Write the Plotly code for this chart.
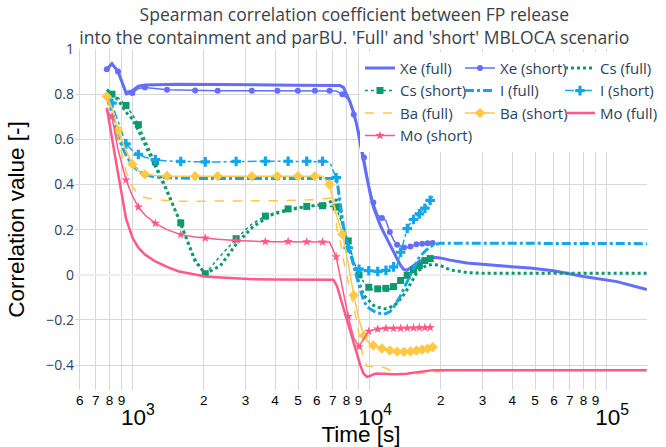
import plotly.graph_objects as go

# ---------------- data ----------------
t_full = [780, 820, 870, 940, 1000, 1060, 1130, 1250, 1400, 1560, 1840, 2030, 2350, 2760,
          3240, 3940, 4940, 5960, 6600, 7050, 7300, 7520, 7770, 8030, 8290, 8570, 8860,
          9150, 9440, 9760, 10070, 10400, 10750, 11100, 11460, 11840, 12220, 12620, 13050,
          13480, 13910, 14390, 14760, 15250, 15750, 16260, 17450, 18620, 19860, 21890,
          25760, 30280, 35580, 47640, 59740, 79960, 110700, 148000]

t_short = [780, 820, 870, 940, 1000, 1060, 1130, 1250, 1400, 1600, 1840, 2030,
           2290, 2740, 3190, 3640, 4090, 4540, 4990, 5440, 5890, 6340, 6790, 7240,
           7690, 8140, 8590, 9040, 9490, 9940, 10390, 10840, 11290, 11740, 12190, 12640,
           13090, 13540, 13990, 14440, 14890, 15340, 15790, 16240, 16690, 17140, 17590,
           18040, 18490]

xe_full = [0.91, 0.935, 0.90, 0.807, 0.815, 0.835, 0.841, 0.843, 0.843, 0.844, 0.844, 0.844,
           0.843, 0.842, 0.842, 0.841, 0.840, 0.840, 0.840, 0.840, 0.840, 0.838, 0.83, 0.80,
           0.765, 0.72, 0.66, 0.58, 0.50, 0.43, 0.36, 0.30, 0.26, 0.22, 0.19, 0.16, 0.13,
           0.10, 0.07, 0.045, 0.025, 0.02, 0.028, 0.04, 0.052, 0.06, 0.07, 0.078, 0.075,
           0.065, 0.052, 0.045, 0.04, 0.03, 0.018, -0.007, -0.03, -0.065]

cs_full = [0.82, 0.80, 0.775, 0.72, 0.69, 0.64, 0.58, 0.48, 0.37, 0.255, 0.06, 0.005,
           0.04, 0.14, 0.215, 0.27, 0.295, 0.308, 0.315, 0.33, 0.33, 0.28, 0.21, 0.16,
           0.11, 0.05, -0.01, -0.05, -0.09, -0.105, -0.12, -0.135, -0.142, -0.147, -0.15,
           -0.15, -0.145, -0.138, -0.126, -0.11, -0.09, -0.067, -0.045, -0.02, 0.005, 0.022,
           0.042, 0.046, 0.042, 0.022, 0.01, 0.007, 0.007, 0.007, 0.007, 0.007, 0.007, 0.007]

i_full = [0.79, 0.72, 0.61, 0.53, 0.485, 0.46, 0.444, 0.433, 0.43, 0.428, 0.427, 0.427,
          0.427, 0.427, 0.427, 0.427, 0.427, 0.427, 0.427, 0.427, 0.42, 0.32, 0.215, 0.15,
          0.10, 0.05, -0.01, -0.067, -0.11, -0.141, -0.152, -0.16, -0.167, -0.172, -0.175,
          -0.17, -0.163, -0.145, -0.12, -0.096, -0.065, -0.03, -0.005, 0.022, 0.05, 0.08,
          0.111, 0.133, 0.14, 0.141, 0.14, 0.14, 0.14, 0.139, 0.139, 0.138, 0.138, 0.138]

ba_full = [0.785, 0.71, 0.61, 0.46, 0.39, 0.356, 0.342, 0.333, 0.328, 0.326, 0.326, 0.326,
           0.326, 0.327, 0.327, 0.328, 0.33, 0.333, 0.338, 0.341, 0.20, 0.155, 0.067, 0.0,
           -0.06, -0.14, -0.21, -0.30, -0.37, -0.405, -0.407, -0.407, -0.407, -0.408, -0.41,
           -0.415, -0.425, -0.432, -0.437, -0.44, -0.44, -0.44, -0.44, -0.439, -0.438, -0.437,
           -0.433, -0.43, -0.427, -0.424, -0.423, -0.423, -0.423, -0.423, -0.423, -0.423,
           -0.423, -0.423]

mo_full = [0.74, 0.60, 0.45, 0.25, 0.165, 0.12, 0.09, 0.059, 0.035, 0.016, 0.0, -0.007,
           -0.012, -0.017, -0.02, -0.021, -0.022, -0.022, -0.022, -0.022, -0.05, -0.096,
           -0.15, -0.20, -0.25, -0.304, -0.36, -0.40, -0.437, -0.452, -0.448, -0.44, -0.437,
           -0.438, -0.44, -0.44, -0.44, -0.44, -0.44, -0.44, -0.44, -0.438, -0.436, -0.434,
           -0.432, -0.43, -0.425, -0.422, -0.422, -0.422, -0.423, -0.423, -0.423, -0.423,
           -0.423, -0.423, -0.423, -0.423]

xe_short = [0.91, 0.93, 0.90, 0.797, 0.805, 0.825, 0.83, 0.825, 0.82, 0.818, 0.816, 0.815,
            0.815, 0.815, 0.815, 0.815, 0.815, 0.815, 0.815, 0.815, 0.815, 0.815, 0.815, 0.814,
            0.80, 0.778, 0.71, 0.635, 0.52, 0.40, 0.32, 0.265, 0.252, 0.24, 0.19, 0.155,
            0.133, 0.128, 0.121, 0.12, 0.125, 0.13, 0.135, 0.137, 0.138, 0.139, 0.14, 0.14, 0.141]

cs_short = [0.81, 0.80, 0.785, 0.75, 0.71, 0.665, 0.60, 0.50, 0.38, 0.23, 0.07, 0.005,
            0.07, 0.16, 0.225, 0.26, 0.28, 0.292, 0.30, 0.303, 0.306, 0.306, 0.304, 0.30,
            0.22, 0.15, 0.06, 0.0, -0.035, -0.055, -0.067, -0.062, -0.058, -0.06, -0.064,
            -0.052, -0.037, -0.025, -0.012, -0.002, 0.01, 0.022, 0.032, 0.04, 0.052, 0.063,
            0.073, 0.072, 0.068]

i_short = [0.80, 0.76, 0.68, 0.58, 0.55, 0.533, 0.521, 0.51, 0.504, 0.502, 0.501, 0.50,
           0.50, 0.502, 0.503, 0.503, 0.503, 0.503, 0.503, 0.503, 0.503, 0.503, 0.50, 0.43,
           0.24, 0.12, 0.04, 0.025, 0.02, 0.018, 0.016, 0.015, 0.016, 0.02, 0.027, 0.035,
           0.045, 0.10, 0.16, 0.205, 0.23, 0.245, 0.26, 0.27, 0.285, 0.295, 0.31, 0.33, 0.348]

ba_short = [0.79, 0.74, 0.64, 0.55, 0.49, 0.46, 0.445, 0.44, 0.438, 0.437, 0.437, 0.437,
            0.437, 0.437, 0.437, 0.437, 0.437, 0.437, 0.437, 0.437, 0.437, 0.437, 0.40, 0.27,
            0.18, 0.05, -0.09, -0.20, -0.27, -0.30, -0.313, -0.32, -0.326, -0.332, -0.335,
            -0.338, -0.34, -0.341, -0.341, -0.34, -0.339, -0.337, -0.335, -0.333, -0.331,
            -0.329, -0.327, -0.323, -0.32]

mo_short = [0.725, 0.70, 0.555, 0.42, 0.35, 0.30, 0.265, 0.228, 0.20, 0.178, 0.168, 0.163,
            0.158, 0.152, 0.148, 0.147, 0.147, 0.147, 0.147, 0.146, 0.146, 0.145, 0.145, 0.08,
            -0.06, -0.185, -0.28, -0.318, -0.28, -0.25, -0.243, -0.24, -0.238, -0.237, -0.237,
            -0.237, -0.237, -0.237, -0.236, -0.236, -0.235, -0.235, -0.235, -0.234, -0.234,
            -0.234, -0.233, -0.233, -0.233]

# ---------------- styling ----------------
C_XE = "#636EFA"
C_CS = "#0A9A6B"
C_I = "#14A6EA"
C_BA = "#FFC845"
C_MO = "#FF5A87"

traces = [
    # name, t, y, line, marker, legend column
    ("Xe (full)", t_full, xe_full, dict(color=C_XE, width=3), None, "c1"),
    ("Xe (short)", t_short, xe_short, dict(color=C_XE, width=1.5),
     dict(symbol="circle", size=6), "c2"),
    ("Cs (full)", t_full, cs_full, dict(color=C_CS, width=3, dash="dot"), None, "c3"),
    ("Cs (short)", t_short, cs_short, dict(color=C_CS, width=1.5, dash="dot"),
     dict(symbol="square", size=7), "c1"),
    ("I (full)", t_full, i_full, dict(color=C_I, width=3, dash="dashdot"), None, "c2"),
    ("I (short)", t_short, i_short, dict(color=C_I, width=1.5, dash="dashdot"),
     dict(symbol="cross", size=8), "c3"),
    ("Ba (full)", t_full, ba_full, dict(color=C_BA, width=1.5, dash="dash"), None, "c1"),
    ("Ba (short)", t_short, ba_short, dict(color=C_BA, width=1.5),
     dict(symbol="diamond", size=8), "c2"),
    ("Mo (full)", t_full, mo_full, dict(color=C_MO, width=2.5), None, "c3"),
    ("Mo (short)", t_short, mo_short, dict(color=C_MO, width=1.5),
     dict(symbol="star", size=7), "c1"),
]

fig = go.Figure()
for name, t, y, line, marker, grp in traces:
    kw = dict(x=t, y=y, name=name, line=line, legendgroup=grp)
    if marker is None:
        kw["mode"] = "lines"
    else:
        kw["mode"] = "lines+markers"
        kw["marker"] = dict(color=line["color"], maxdisplayed=25, **marker)
    fig.add_trace(go.Scatter(**kw))

GRID = "#D5D7DF"

fig.update_layout(
    template="plotly_white",
    width=666, height=447,
    margin=dict(l=75, r=19, t=49, b=57, autoexpand=False),
    paper_bgcolor="white", plot_bgcolor="white",
    font=dict(family="Open Sans, sans-serif", size=14, color="#2a3f5f"),
    title=dict(
        text="Spearman correlation coefficient between FP release<br>"
             "into the containment and parBU. 'Full' and 'short' MBLOCA scenario",
        x=0.532, xanchor="center", xref="container",
        y=0.952, yanchor="top", yref="container",
        font=dict(family="Open Sans, sans-serif", size=17.5, color="#3a3f4a"),
    ),
    legend=dict(
        orientation="h", traceorder="grouped",
        xref="container", yref="container",
        x=0.5405, xanchor="left", y=0.884, yanchor="top",
        entrywidth=55, bgcolor="white",
        font=dict(family="Open Sans, sans-serif", size=15, color="#2a3f5f"),
    ),
    showlegend=True,
)

fig.update_xaxes(
    type="log", range=[2.758, 5.171], dtick="D1", exponentformat="power",
    automargin=False,
    showgrid=True, gridcolor=GRID, gridwidth=1, zeroline=False, showline=False,
    tickfont=dict(family="Liberation Sans, Arial, sans-serif", size=18, color="black"),
    title=dict(text="Time [s]", standoff=5,
               font=dict(family="Liberation Sans, Arial, sans-serif", size=22.5, color="black")),
)
fig.update_yaxes(
    range=[-0.51, 1.0], dtick=0.2, tick0=0, automargin=False,
    showgrid=True, gridcolor=GRID, gridwidth=1,
    zeroline=True, zerolinecolor="#EBF0F8", zerolinewidth=2, showline=False,
    tickfont=dict(family="Open Sans, sans-serif", size=14, color="#2a3f5f"),
    title=dict(text="Correlation value [-]",
               font=dict(family="Liberation Sans, Arial, sans-serif", size=22.5, color="black")),
)

fig.write_html("out.html")
